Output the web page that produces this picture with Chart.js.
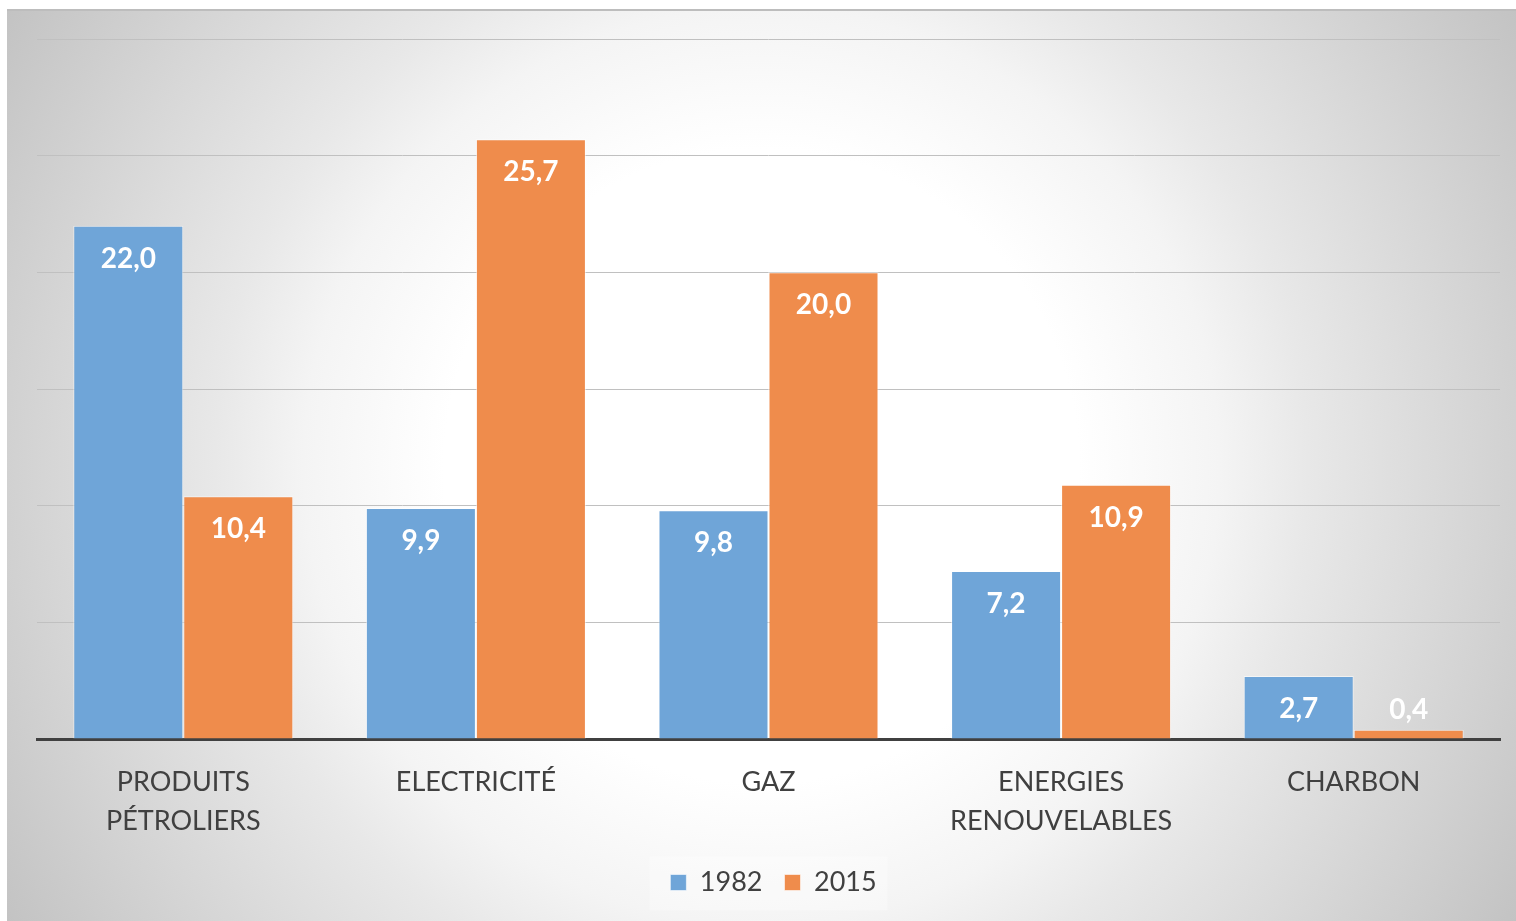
<!DOCTYPE html>
<html>
<head>
<meta charset="utf-8">
<script src="https://cdn.jsdelivr.net/npm/chart.js@4"></script>
<style>
  html, body { margin: 0; padding: 0; background: #ffffff; width: 1516px; height: 921px; overflow: hidden; }
  #bg {
    position: absolute; left: 7px; top: 9px; width: 1509px; height: 912px;
    background: radial-gradient(circle farthest-corner at 50% 50%, #ffffff 0%, #ffffff 36%, #f4f4f4 52%, #e8e8e8 62%, #c3c3c3 100%);
    border-top: 2px solid #bdbdbd; box-sizing: border-box;
  }
  #c { position: absolute; left: 0; top: 0; }
</style>
</head>
<body>
<div id="bg"></div>
<canvas id="c" width="1516" height="921"></canvas>
<script>
const categories = [['PRODUITS', 'PÉTROLIERS'], 'ELECTRICITÉ', 'GAZ', ['ENERGIES', 'RENOUVELABLES'], 'CHARBON'];
const seriesNames = ['1982', '2015'];
const values1982 = [22.0, 9.9, 9.8, 7.2, 2.7];
const values2015 = [10.4, 25.7, 20.0, 10.9, 0.4];
const yTicks = [0, 5, 10, 15, 20, 25, 30];

const FONT = 'Lato, "Open Sans", sans-serif';

const dataLabels = {
  id: 'dataLabels',
  afterDatasetsDraw(chart) {
    const ctx = chart.ctx;
    const base = chart.scales.y.getPixelForValue(0);
    ctx.save();
    ctx.fillStyle = '#ffffff';
    ctx.font = 'bold 28px ' + FONT;
    ctx.textAlign = 'center';
    ctx.textBaseline = 'middle';
    chart.data.datasets.forEach((ds, i) => {
      const meta = chart.getDatasetMeta(i);
      meta.data.forEach((el, j) => {
        const v = ds.data[j];
        const y = Math.min(el.y + 33, base - 29);
        ctx.fillText(v.toFixed(1).replace('.', ','), el.x, y);
      });
    });
    ctx.restore();
  }
};

const legendShift = {
  id: 'legendShift',
  afterLayout(chart) {
    const l = chart.legend;
    if (l) { l.left += 5; l.right += 5; }
  },
  beforeDraw(chart) {
    const l = chart.legend;
    if (!l) return;
    const ctx = chart.ctx;
    const cx = (l.left + l.right) / 2;
    const cy = l.top + 23 + 13.5;
    ctx.save();
    ctx.fillStyle = 'rgba(255,255,255,0.3)';
    ctx.fillRect(cx - 124, cy - 27, 238, 54);
    ctx.restore();
  }
};

new Chart(document.getElementById('c'), {
  type: 'bar',
  data: {
    labels: categories,
    datasets: [
      { label: seriesNames[0], data: values1982, backgroundColor: '#6fa5d8', borderColor: 'rgba(255,255,255,0.55)', borderWidth: 1, categoryPercentage: 0.752, barPercentage: 1.0 },
      { label: seriesNames[1], data: values2015, backgroundColor: '#ef8c4c', borderColor: 'rgba(255,255,255,0.55)', borderWidth: 1, categoryPercentage: 0.752, barPercentage: 1.0 }
    ]
  },
  options: {
    responsive: false,
    animation: false,
    devicePixelRatio: 1,
    layout: { padding: { left: 37, right: 16, top: 39, bottom: 15 } },
    plugins: {
      tooltip: { enabled: false },
      legend: {
        position: 'bottom',
        labels: {
          boxWidth: 16, boxHeight: 16, padding: 22,
          color: '#404040',
          font: { family: FONT, size: 27 }
        }
      }
    },
    scales: {
      y: {
        min: yTicks[0], max: yTicks[yTicks.length - 1],
        afterBuildTicks(s) { s.ticks = yTicks.map(v => ({ value: v })); },
        ticks: { display: false },
        grid: { color: '#c0c0c0', lineWidth: 1, drawTicks: false },
        border: { display: false },
        afterFit(s) { s.height = s.height; s.width = 0; }
      },
      x: {
        grid: { display: false, drawTicks: false },
        border: { display: true, color: '#404040', width: 3 },
        ticks: { color: '#404040', font: { family: FONT, size: 27, lineHeight: 1.45 }, padding: 24, maxRotation: 0, autoSkip: false },
        afterFit(s) { s.height = 108; }
      }
    }
  },
  plugins: [legendShift, dataLabels]
});
</script>
</body>
</html>
